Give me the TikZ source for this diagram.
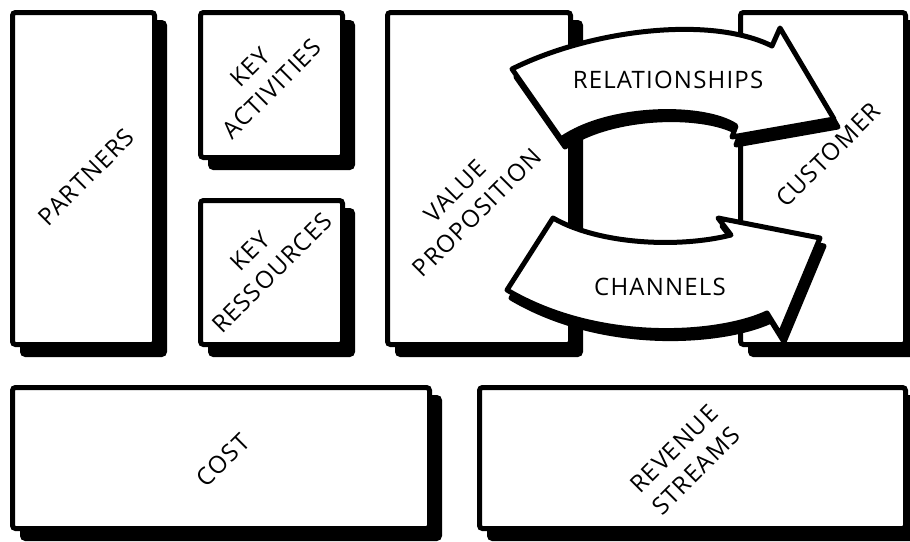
\documentclass[tikz,border=0pt]{standalone}
\usepackage{fontspec}
\setmainfont{Open Sans}
\pgfdeclarelayer{bg}
\pgfsetlayers{bg,main}
\begin{document}
\begin{tikzpicture}[x=1pt,y=-1pt,
  cbox/.style={draw=black, line width=5pt, fill=white, rounded corners=3pt, inner sep=0pt, outer sep=0pt},
  cshadow/.style={draw=black, fill=black, line width=5pt, rounded corners=3pt},
  arrowshape/.style={draw=black, fill=white, line width=5pt, line join=round},
  arrowshadow/.style={draw=black, fill=black, line width=5pt, line join=round},
  lbl/.style={font=\fontsize{24}{31}\selectfont\addfontfeature{LetterSpace=5}, align=center, inner sep=0pt, rotate=45},
  hlbl/.style={font=\fontsize{24}{31}\selectfont\addfontfeature{LetterSpace=5}, inner sep=0pt}
]
\useasboundingbox (0,0) rectangle (910,541);
\clip (0,0) rectangle (910,541);

% boxes
\node[cbox, minimum width=142pt, minimum height=332pt] (partners) at (83.5,178.5) {};
\node[cbox, minimum width=142pt, minimum height=145pt] (keyact) at (271.5,85) {};
\node[cbox, minimum width=142pt, minimum height=144pt] (keyres) at (271.5,272.5) {};
\node[cbox, minimum width=183pt, minimum height=332pt] (value) at (479,178.5) {};
\node[cbox, minimum width=165pt, minimum height=332pt] (customer) at (823,178.5) {};
\node[cbox, minimum width=417pt, minimum height=141pt] (cost) at (221,458) {};
\node[cbox, minimum width=426pt, minimum height=141pt] (revenue) at (692.5,458) {};

\begin{pgfonlayer}{bg}
  \fill[white] (0,0) rectangle (910,541);
  \foreach \n in {partners,keyact,keyres,value,customer,cost,revenue}
    \draw[cshadow] ([shift={(10,10)}]\n.north west) rectangle ([shift={(10,10)}]\n.south east);
\end{pgfonlayer}

% relationships arrow
\begin{scope}[shift={(4,8)}]
  \filldraw[arrowshadow] (512,69) .. controls (590,30) and (710,15) .. (772,46) -- (780,28) -- (834,119) -- (732,137) -- (736,126) .. controls (705,105) and (610,105) .. (561,139) -- cycle;
\end{scope}
\filldraw[arrowshape] (512,69) .. controls (590,30) and (710,15) .. (772,46) -- (780,28) -- (834,119) -- (732,137) -- (736,126) .. controls (705,105) and (610,105) .. (561,139) -- cycle;

% channels arrow
\begin{scope}[shift={(4,8)}]
  \filldraw[arrowshadow] (553,218) .. controls (600,245) and (680,248) .. (731,235) -- (718,218) -- (820,238) -- (780,334) -- (767,313) .. controls (720,335) and (600,345) .. (507,290) -- cycle;
\end{scope}
\filldraw[arrowshape] (553,218) .. controls (600,245) and (680,248) .. (731,235) -- (718,218) -- (820,238) -- (780,334) -- (767,313) .. controls (720,335) and (600,345) .. (507,290) -- cycle;

% labels
\node[lbl] (tpart) at (86,177) {PARTNERS};
\node[lbl] (tact) at (261,78) {KEY\\ACTIVITIES};
\node[lbl] (tres) at (261,262) {KEY\\RESSOURCES};
\node[lbl] (tval) at (466,202) {VALUE\\PROPOSITION};
\node[lbl] (tcust) at (828,155) {CUSTOMER};
\node[lbl] (tcost) at (223,460) {COST};
\node[lbl] (trev) at (685,460) {REVENUE\\STREAMS};
\node[hlbl] (trel) at (668,80) {RELATIONSHIPS};
\node[hlbl] (tchan) at (660,287) {CHANNELS};
\end{tikzpicture}
\end{document}
